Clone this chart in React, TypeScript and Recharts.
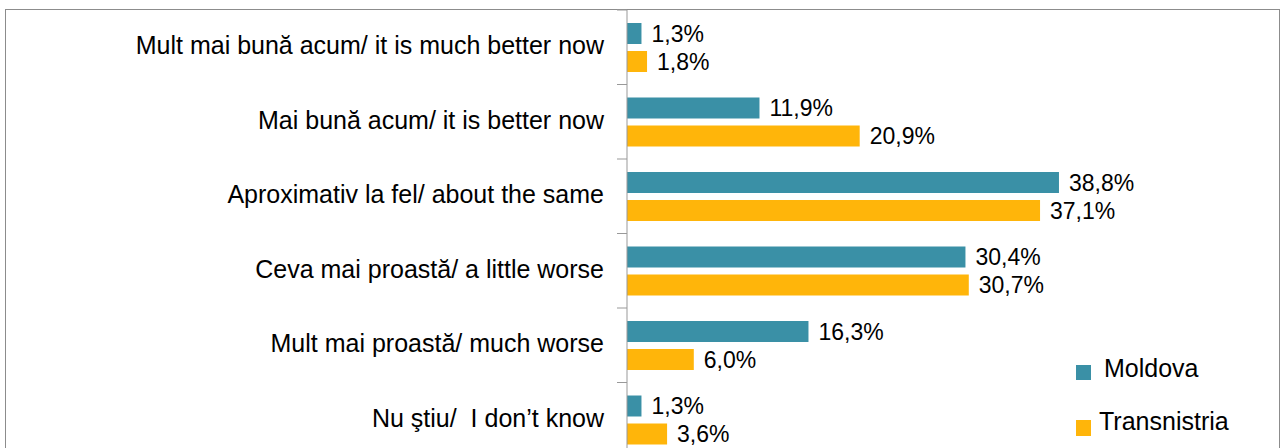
import React from "react";
import { BarChart, Bar, XAxis, YAxis, LabelList } from "recharts";

const categories = [
  "Mult mai bună acum/ it is much better now",
  "Mai bună acum/ it is better now",
  "Aproximativ la fel/ about the same",
  "Ceva mai proastă/ a little worse",
  "Mult mai proastă/ much worse",
  "Nu ştiu/  I don’t know",
];
const moldova = [1.3, 11.9, 38.8, 30.4, 16.3, 1.3];
const transnistria = [1.8, 20.9, 37.1, 30.7, 6.0, 3.6];

const TEAL = "#3A90A6";
const YELLOW = "#FFB50A";
const FONT = "'Liberation Sans', Arial, sans-serif";

const W = 1281;
const H = 460;
const MARGIN = { top: 10, right: 153, bottom: 3, left: 0 };
const BAND = (H - MARGIN.top - MARGIN.bottom) / categories.length;

const data = categories.map((name, i) => ({
  name,
  moldova: moldova[i],
  transnistria: transnistria[i],
}));

const fmt = (v: any) => `${Number(v).toFixed(1).replace(".", ",")}%`;

// label right-aligned + the small boundary tick Excel draws between categories
const CategoryTick = (props: any) => {
  const { x, y, payload } = props;
  const axisX = x + 23;
  return (
    <g>
      <line x1={axisX - 10} x2={axisX} y1={y - BAND / 2} y2={y - BAND / 2} stroke="#999" />
      <text x={x} y={y} dy={7} textAnchor="end" fill="#000" fontSize={25} fontFamily={FONT}
            style={{ whiteSpace: "pre" }}>
        {payload.value}
      </text>
    </g>
  );
};

export default function App() {
  return (
    <div style={{ position: "absolute", left: 0, top: 0, width: W, height: 448, overflow: "hidden", background: "#fff" }}>
      <div style={{ position: "absolute", left: 5, top: 9, width: 1273, height: 480, border: "1.5px solid #8c8c8c" }} />
      <div style={{ position: "absolute", left: 0, top: 0 }}>
        <BarChart width={W} height={H} data={data} layout="vertical" margin={MARGIN} barSize={21} barGap={7}>
          <XAxis type="number" domain={[0, 45]} hide />
          <YAxis
            type="category"
            dataKey="name"
            width={627}
            tickLine={false}
            tickSize={10}
            tickMargin={13}
            axisLine={{ stroke: "#999" }}
            tick={<CategoryTick />}
            interval={0}
          />
          <Bar dataKey="moldova" name="Moldova" fill={TEAL} isAnimationActive={false}>
            <LabelList dataKey="moldova" position="right" offset={10} formatter={fmt} fill="#000" fontSize={23} fontFamily={FONT} />
          </Bar>
          <Bar dataKey="transnistria" name="Transnistria" fill={YELLOW} isAnimationActive={false}>
            <LabelList dataKey="transnistria" position="right" offset={10} formatter={fmt} fill="#000" fontSize={23} fontFamily={FONT} />
          </Bar>
        </BarChart>
      </div>
      <div style={{ position: "absolute", left: 1076, top: 361, width: 200, height: 90, fontFamily: FONT, fontSize: 25 }}>
        <div style={{ position: "absolute", left: 0, top: 4, width: 15, height: 15, background: TEAL }} />
        <div style={{ position: "absolute", left: 28, top: -7 }}>Moldova</div>
        <div style={{ position: "absolute", left: 0, top: 59, width: 15, height: 16, background: YELLOW }} />
        <div style={{ position: "absolute", left: 23, top: 46 }}>Transnistria</div>
      </div>
    </div>
  );
}
